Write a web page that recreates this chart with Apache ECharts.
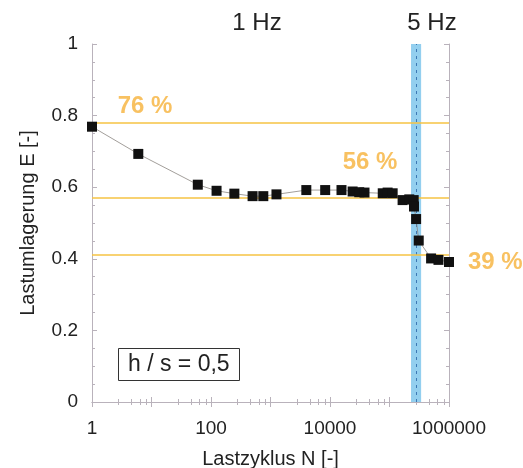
<!DOCTYPE html>
<html>
<head>
<meta charset="utf-8">
<script src="https://cdn.jsdelivr.net/npm/echarts@6/dist/echarts.min.js"></script>
<style>
  html, body { margin: 0; padding: 0; background: #fff; }
  #chart { width: 523px; height: 468px; }
</style>
</head>
<body>
<div id="chart"></div>
<script>
// load cycle N and load redistribution E
const cycles = [1, 6, 60, 124, 247, 500, 757, 1260, 4000, 8300, 15600, 24000, 31000, 38000,
  77000, 93000, 113000, 166000, 215000, 255000, 258000, 280000, 310000, 500000, 665000, 1000000];
const loadShare = [0.769, 0.693, 0.607, 0.590, 0.582, 0.575, 0.575, 0.580, 0.592, 0.592, 0.592, 0.588, 0.586, 0.585,
  0.583, 0.585, 0.583, 0.564, 0.566, 0.564, 0.546, 0.511, 0.451, 0.401, 0.397, 0.391];

// reference levels and their labels
const refLevels = [0.776, 0.572, 0.408];
const refLabels = ['76 %', '56 %', '39 %'];
const refLabelX = [7.8, 47000, 6000000];
const refLabelY = [0.827, 0.668, 0.39];

// 5 Hz band
const bandRange = [230000, 340000];
const bandCenter = 280000;

const yTicks = [0, 0.2, 0.4, 0.6, 0.8, 1];

const axisColor = '#b9b2bb';
const orange = '#f6b23a';
const lineYellow = '#f6c343';
const font = 'Liberation Sans, Arial, sans-serif';

const chart = echarts.init(document.getElementById('chart'));

const logAxis = (pos, showLabel) => ({
  type: 'log',
  logBase: 10,
  position: pos,
  min: 1,
  max: 1000000,
  axisLine: { show: true, lineStyle: { color: axisColor, width: 1 } },
  axisTick: { show: true, inside: true, length: 5, interval: 0, lineStyle: { color: axisColor } },
  minorTick: { show: true, splitNumber: 5, length: 3, lineStyle: { color: axisColor } },
  splitLine: { show: false },
  axisLabel: {
    show: showLabel,
    interval: 0,
    hideOverlap: false,
    showMaxLabel: true,
    showMinLabel: true,
    margin: 17,
    color: '#222',
    fontSize: 19,
    fontFamily: font,
    formatter: v => {
      const e = Math.round(Math.log10(v));
      return e % 2 === 0 ? String(Math.pow(10, e)) : '';
    }
  }
});

const linAxis = (pos, showLabel) => ({
  type: 'value',
  position: pos,
  min: yTicks[0],
  max: yTicks[yTicks.length - 1],
  interval: 0.2,
  axisLine: { show: true, lineStyle: { color: axisColor, width: 1 } },
  axisTick: { show: true, inside: true, length: 5, lineStyle: { color: axisColor } },
  minorTick: { show: true, splitNumber: 4, length: 3, lineStyle: { color: axisColor } },
  splitLine: { show: false },
  axisLabel: {
    show: showLabel,
    margin: 14,
    color: '#222',
    fontSize: 19,
    fontFamily: font
  }
});

const xBottom = logAxis('bottom', true);
xBottom.name = 'Lastzyklus N [-]';
xBottom.nameLocation = 'middle';
xBottom.nameGap = 47;
xBottom.nameTextStyle = { color: '#222', fontSize: 20, fontFamily: font };

const yLeft = linAxis('left', true);
yLeft.name = 'Lastumlagerung E [-]';
yLeft.nameLocation = 'middle';
yLeft.nameGap = 54;
yLeft.nameTextStyle = { color: '#222', fontSize: 20, fontFamily: font };

const option = {
  backgroundColor: '#fff',
  animation: false,
  grid: { left: 92, right: 74, top: 44, bottom: 66, outerBoundsMode: 'none' },
  title: {
    text: 'h / s = 0,5',
    left: 118,
    top: 348,
    padding: [5, 10, 5, 10],
    borderColor: '#333',
    borderWidth: 1,
    textStyle: { color: '#222', fontSize: 23, fontWeight: 'normal', fontFamily: font }
  },
  graphic: [
    { type: 'text', x: 257, y: 23, style: { text: '1 Hz', fill: '#222', fontSize: 24, fontFamily: font, align: 'center', verticalAlign: 'middle' } },
    { type: 'text', x: 432, y: 23, style: { text: '5 Hz', fill: '#222', fontSize: 24, fontFamily: font, align: 'center', verticalAlign: 'middle' } }
  ],
  xAxis: [xBottom, logAxis('top', false)],
  yAxis: [yLeft, linAxis('right', false)],
  series: [
    {
      type: 'line',
      name: 'band',
      data: [],
      markArea: {
        silent: true,
        itemStyle: { color: 'rgba(120, 195, 235, 0.8)' },
        data: [[{ xAxis: bandRange[0] }, { xAxis: bandRange[1] }]]
      },
      markLine: {
        silent: true,
        symbol: 'none',
        label: { show: false },
        lineStyle: { color: '#3c78b4', type: [3, 4], width: 1 },
        data: [{ xAxis: bandCenter }]
      }
    },
    {
      type: 'line',
      name: 'levels',
      data: [],
      markLine: {
        silent: true,
        symbol: 'none',
        label: { show: false },
        lineStyle: { color: lineYellow, type: 'solid', width: 1.5 },
        data: refLevels.map(v => ({ yAxis: v }))
      }
    },
    {
      type: 'line',
      name: 'E',
      data: cycles.map((n, i) => [n, loadShare[i]]),
      symbol: 'rect',
      symbolSize: 10,
      itemStyle: { color: '#111' },
      lineStyle: { color: '#8a8580', width: 0.8 },
      z: 5
    },
    {
      type: 'scatter',
      name: 'labels',
      clip: false,
      symbolSize: 0,
      data: refLabels.map((t, i) => ({ value: [refLabelX[i], refLabelY[i]], name: t })),
      label: {
        show: true,
        position: 'inside',
        formatter: p => p.name,
        color: orange,
        fontSize: 24,
        fontWeight: 'bold',
        fontFamily: font
      }
    }
  ]
};

chart.setOption(option);
</script>
</body>
</html>
